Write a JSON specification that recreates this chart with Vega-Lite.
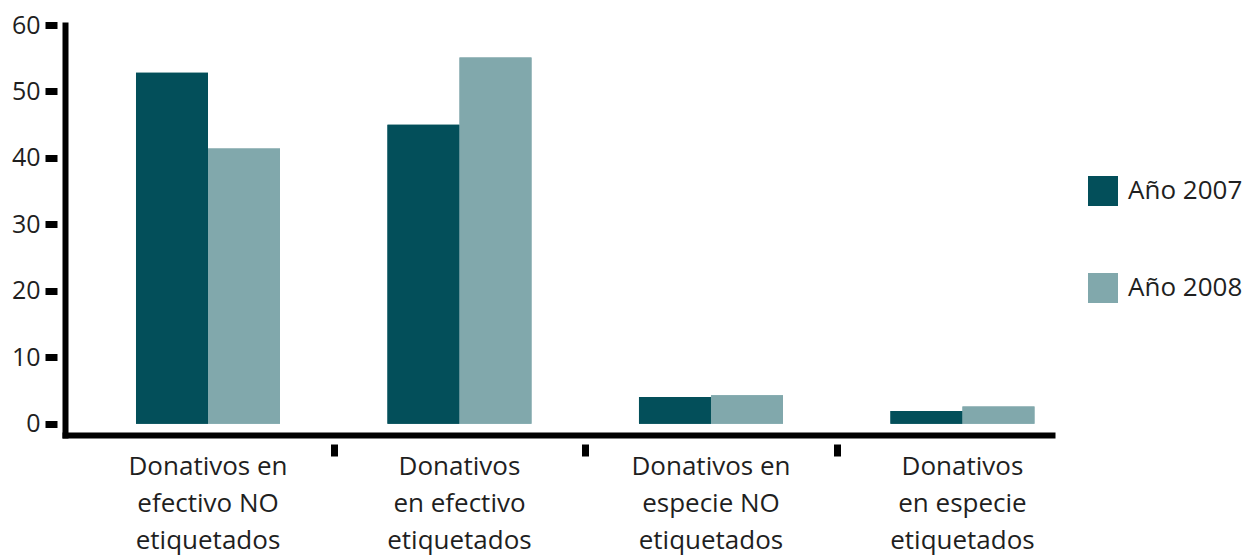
{
  "$schema": "https://vega.github.io/schema/vega-lite/v6.json",
  "width": 987,
  "height": 410,
  "autosize": "none",
  "padding": {"left": 65, "top": 25, "right": 206, "bottom": 124},
  "background": "white",
  "config": {"view": {"stroke": null}, "font": "Open Sans"},
  "data": {
    "values": [
      {"cat": "Donativos en|efectivo NO|etiquetados", "year": "Año 2007", "value": 52.8},
      {"cat": "Donativos en|efectivo NO|etiquetados", "year": "Año 2008", "value": 41.4},
      {"cat": "Donativos|en efectivo|etiquetados", "year": "Año 2007", "value": 45.0},
      {"cat": "Donativos|en efectivo|etiquetados", "year": "Año 2008", "value": 55.1},
      {"cat": "Donativos en|especie NO|etiquetados", "year": "Año 2007", "value": 4.0},
      {"cat": "Donativos en|especie NO|etiquetados", "year": "Año 2008", "value": 4.3},
      {"cat": "Donativos|en especie|etiquetados", "year": "Año 2007", "value": 1.9},
      {"cat": "Donativos|en especie|etiquetados", "year": "Año 2008", "value": 2.6}
    ]
  },
  "layer": [
    {
      "mark": {"type": "bar"},
      "encoding": {
        "x": {
          "field": "cat", "type": "nominal", "sort": null,
          "scale": {"paddingInner": 0.4274, "paddingOuter": 0.176, "align": 0.802},
          "axis": {
            "orient": "bottom", "title": null, "grid": false,
            "domain": true, "domainWidth": 6, "domainColor": "black", "domainCap": "square",
            "ticks": false, "tickSize": 0, "labels": true, "labelAngle": 0,
            "labelExpr": "split(datum.label, '|')",
            "labelFontSize": 26, "labelColor": "#1f1f1f", "labelPadding": 18,
            "labelLineHeight": 37, "labelBaseline": "top", "labelAlign": "center"
          }
        },
        "xOffset": {"field": "year", "type": "nominal", "sort": null},
        "y": {
          "field": "value", "type": "quantitative", "stack": null,
          "scale": {"domain": [-1.7, 60], "nice": false, "zero": false},
          "axis": {
            "orient": "left", "title": null, "grid": false,
            "domain": true, "domainWidth": 6, "domainColor": "black", "domainCap": "square",
            "ticks": false, "labels": false
          }
        },
        "y2": {"datum": 0},
        "color": {
          "field": "year", "type": "nominal", "sort": null,
          "scale": {"range": ["#034f5a", "#81a8ac"]},
          "legend": {
            "orient": "none", "legendX": 1023, "legendY": 151, "title": null,
            "symbolType": "square", "symbolSize": 900, "symbolStrokeWidth": 0, "symbolOpacity": 1,
            "labelFontSize": 26, "labelColor": "#1f1f1f", "labelOffset": 10,
            "rowPadding": 67, "padding": 0
          }
        }
      }
    },
    {
      "mark": {"type": "bar"},
      "encoding": {
        "x": {
          "field": "cat", "type": "nominal", "sort": null,
          "axis": {
            "orient": "bottom", "title": null, "grid": false, "domain": false,
            "labels": false, "ticks": true, "tickSize": 12, "tickWidth": 7, "tickColor": "black",
            "bandPosition": 1, "tickOffset": 54, "offset": 9,
            "values": ["Donativos en|efectivo NO|etiquetados", "Donativos|en efectivo|etiquetados", "Donativos en|especie NO|etiquetados"]
          }
        },
        "xOffset": {"field": "year", "type": "nominal", "sort": null},
        "y": {
          "field": "value", "type": "quantitative", "stack": null,
          "axis": {
            "orient": "left", "title": null, "grid": false, "domain": false,
            "ticks": true, "tickSize": 12, "tickWidth": 7, "tickColor": "black",
            "labels": true, "labelFontSize": 25, "labelColor": "#1f1f1f", "labelPadding": 5,
            "values": [0, 10, 20, 30, 40, 50, 60], "offset": 8
          }
        },
        "y2": {"datum": 0},
        "color": {"field": "year", "type": "nominal", "sort": null}
      }
    }
  ],
  "resolve": {"axis": {"x": "independent", "y": "independent"}}
}
